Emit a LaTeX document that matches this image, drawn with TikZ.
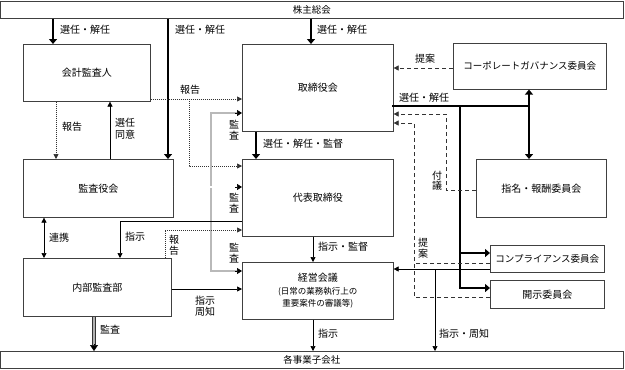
\documentclass[tikz,border=0pt]{standalone}
\usepackage{fontspec}
\setmainfont{Noto Sans CJK JP}
\usetikzlibrary{arrows.meta}
\begin{document}
\begin{tikzpicture}[x=1pt,y=-1pt,
  box/.style={draw=black!75, line width=0.6pt, anchor=north west, inner sep=0pt, font=\fontsize{10}{12}\selectfont, align=center},
  lbl/.style={font=\fontsize{10}{12}\selectfont, inner sep=0pt, anchor=west, align=left},
  clbl/.style={font=\fontsize{10}{11.5}\selectfont, inner sep=0pt, align=center},
  vlbl/.style={font=\fontsize{10}{10.5}\selectfont, inner sep=0pt, align=center},
  thinln/.style={line width=0.7pt, -{Triangle[length=5pt,width=5pt]}},
  bothln/.style={line width=0.7pt, {Triangle[length=5pt,width=5pt]}-{Triangle[length=5pt,width=5pt]}},
  thk/.style={line width=2.4pt, -{Triangle[length=5pt,width=8pt]}},
  thkplain/.style={line width=2.4pt, line cap=rect},
  dotln/.style={line width=0.7pt, black!80, dash pattern=on 1pt off 1pt, -{Triangle[length=5pt,width=5pt]}},
  dshln/.style={line width=0.7pt, black!80, dash pattern=on 4pt off 3pt, -{Triangle[length=5pt,width=5pt]}},
  dshplain/.style={line width=0.7pt, black!80, dash pattern=on 4pt off 3pt},
  dbl/.style={double, double distance=1.3pt, line width=0.6pt, draw=black},
  vdbl/.style={double=gray!55, double distance=1.2pt, line width=0.7pt, draw=black!85},
  tiponly/.style={line width=0.7pt, -{Triangle[length=5pt,width=6pt]}}
]
\useasboundingbox (0,0) rectangle (625,370);

% boxes
\node[box, minimum width=623pt, minimum height=17pt, font=\fontsize{9.5}{11}\selectfont] (kabu) at (0,1) {株主総会};
\node[box, minimum width=623pt, minimum height=17pt, font=\fontsize{9.5}{11}\selectfont] (kaisha) at (0,351) {各事業子会社};
\node[box, minimum width=127pt, minimum height=57pt] (kaikei) at (23,44) {会計監査人};
\node[box, minimum width=150pt, minimum height=58pt] (kansa) at (23,159) {監査役会};
\node[box, minimum width=148pt, minimum height=58pt] (naibu) at (23,258) {内部監査部};
\node[box, minimum width=151pt, minimum height=87pt] (tori) at (242,44) {取締役会};
\node[box, minimum width=151pt, minimum height=77pt] (daihyo) at (242,159) {代表取締役};
\node[box, minimum width=151pt, minimum height=57pt] (keiei) at (242,262) {{\fontsize{10}{12}\selectfont 経営会議}\\[1pt]{\fontsize{8.5}{10.5}\selectfont (日常の業務執行上の}\\{\fontsize{8.5}{10.5}\selectfont 重要案件の審議等)}};
\node[box, minimum width=153pt, minimum height=46pt, font=\fontsize{9.5}{11}\selectfont] (cg) at (453,43) {コーポレートガバナンス委員会};
\node[box, minimum width=130pt, minimum height=58pt] (shimei) at (476,159) {指名・報酬委員会};
\node[box, minimum width=114pt, minimum height=27pt, font=\fontsize{9.5}{11}\selectfont] (comp) at (490,245) {コンプライアンス委員会};
\node[box, minimum width=114pt, minimum height=28pt] (kaiji) at (490,280) {開示委員会};

% helper coordinates
\coordinate (c53) at (53,0);
\coordinate (c168) at (168,0);
\coordinate (c311) at (311,0);
\coordinate (c56) at (56,0);
\coordinate (c110) at (110,0);
\coordinate (r99) at (0,99);
\coordinate (c189) at (189,0);
\coordinate (r166) at (0,166);
\coordinate (r187) at (0,187);
\coordinate (cV) at (211,0);
\coordinate (r113) at (0,113);
\coordinate (r271) at (0,271);
\coordinate (r221) at (0,221);
\coordinate (c120) at (120,0);
\coordinate (c165) at (165,0);
\coordinate (r230) at (0,230);
\coordinate (c44) at (44,0);
\coordinate (r289) at (0,289);
\coordinate (c94) at (94,0);
\coordinate (c256) at (256,0);
\coordinate (c313) at (313,0);
\coordinate (r269) at (0,269);
\coordinate (c435) at (435,0);
\coordinate (r106) at (0,106);
\coordinate (c529) at (529,0);
\coordinate (c460) at (460,0);
\coordinate (r253) at (0,253);
\coordinate (r288) at (0,288);
\coordinate (r68) at (0,68);
\coordinate (r190) at (0,190);
\coordinate (c446) at (446,0);
\coordinate (r114) at (0,114);
\coordinate (r297) at (0,297);
\coordinate (c414) at (414,0);
\coordinate (r123) at (0,123);
\coordinate (r263) at (0,263);

% shareholders meeting
\draw[thk] (kabu.south -| c53) -- (kaikei.north -| c53);
\draw[thk] (kabu.south -| c168) -- (kansa.north -| c168);
\draw[thk] (kabu.south -| c311) -- (tori.north -| c311);
\node[lbl] at (60,30) {選任・解任};
\node[lbl] at (175,30) {選任・解任};
\node[lbl] at (317,30) {選任・解任};

% auditor <-> audit board
\draw[dotln] (kaikei.south -| c56) -- (kansa.north -| c56);
\node[lbl] at (62,127) {報告};
\draw[thinln] (kansa.north -| c110) -- (kaikei.south -| c110);
\node[lbl, font=\fontsize{10}{12}\selectfont] at (115,129) {選任\\同意};

% auditor report
\draw[dotln] (kaikei.east |- r99) -- (tori.west |- r99);
\draw[dotln] (c189 |- r99) -- (c189 |- r166) -- (daihyo.west |- r166);
\node[clbl] at (190,90) {報告};

% audit (double lines)
\draw[vdbl] ([xshift=-4pt]tori.west |- r113) -| (cV |- r271) -- ([xshift=-4pt]keiei.west |- r271);
\draw[tiponly] ([xshift=-7pt]tori.west |- r113) -- (tori.west |- r113);
\draw[tiponly] ([xshift=-7pt]keiei.west |- r271) -- (keiei.west |- r271);
\draw[dbl] (kansa.east |- r187) -- ([xshift=-4pt]daihyo.west |- r187);
\draw[tiponly] ([xshift=-7pt]daihyo.west |- r187) -- (daihyo.west |- r187);
\node[vlbl] at (234,130) {監\\査};
\node[vlbl] at (234,203) {監\\査};
\node[vlbl] at (234,253) {監\\査};

% representative director <-> internal audit
\draw[thinln] (daihyo.west |- r221) -| (naibu.north -| c120);
\node[lbl] at (125,237) {指示};
\draw[dotln] (naibu.north -| c165) |- (daihyo.west |- r230);
\node[vlbl] at (174,245) {報\\告};

% cooperation
\draw[bothln] (kansa.south -| c44) -- (naibu.north -| c44);
\node[lbl] at (49,238) {連携};

% internal audit -> management meeting
\draw[thinln] (naibu.east |- r289) -- (keiei.west |- r289);
\node[clbl] at (205,306) {指示\\周知};

% internal audit -> subsidiaries
\draw[double=gray!60, double distance=2.6pt, line width=0.6pt, draw=black!80] (naibu.south -| c94) -- ([yshift=6pt]kaisha.north -| c94);
\draw[line width=0.5pt, -{Triangle[length=6pt,width=8pt]}] ([yshift=7pt]kaisha.north -| c94) -- (kaisha.north -| c94);
\node[lbl] at (100,330) {監査};

% board -> representative
\draw[thk] (tori.south -| c256) -- (daihyo.north -| c256);
\node[lbl] at (263,144) {選任・解任・監督};

% representative -> management meeting -> subsidiaries
\draw[thinln] (daihyo.south -| c313) -- (keiei.north -| c313);
\node[lbl] at (318,247) {指示・監督};
\draw[thinln] (keiei.south -| c313) -- (kaisha.north -| c313);
\node[lbl] at (318,334) {指示};

% compliance -> management meeting, subsidiaries
\draw[thinln] (comp.west |- r269) -- (keiei.east |- r269);
\draw[thinln] (c435 |- r269) -- (kaisha.north -| c435);
\node[lbl] at (439,334) {指示・周知};

% board -> committees (thick)
\draw[thkplain] (tori.east |- r106) -- (c529 |- r106);
\draw[thk] (c529 |- r106) -- (cg.south -| c529);
\draw[thk] (c529 |- r106) -- (shimei.north -| c529);
\draw[thk] (c460 |- r106) |- (kaiji.west |- r288);
\draw[thk] (c460 |- r253) -- (comp.west |- r253);
\node[lbl] at (399,98) {選任・解任};

% proposals (dashed)
\draw[dshln] (cg.west |- r68) -- (tori.east |- r68);
\node[clbl] at (425,59) {提案};
\draw[dshln] (shimei.west |- r190) -| (c446 |- r114) -- (tori.east |- r114);
\node[vlbl] at (437,181) {付\\議};
\draw[dshln] (kaiji.west |- r297) -| (c414 |- r123) -- (tori.east |- r123);
\draw[dshplain] (comp.west |- r263) -- (c414 |- r263);
\node[vlbl] at (423,248) {提\\案};
\end{tikzpicture}
\end{document}
